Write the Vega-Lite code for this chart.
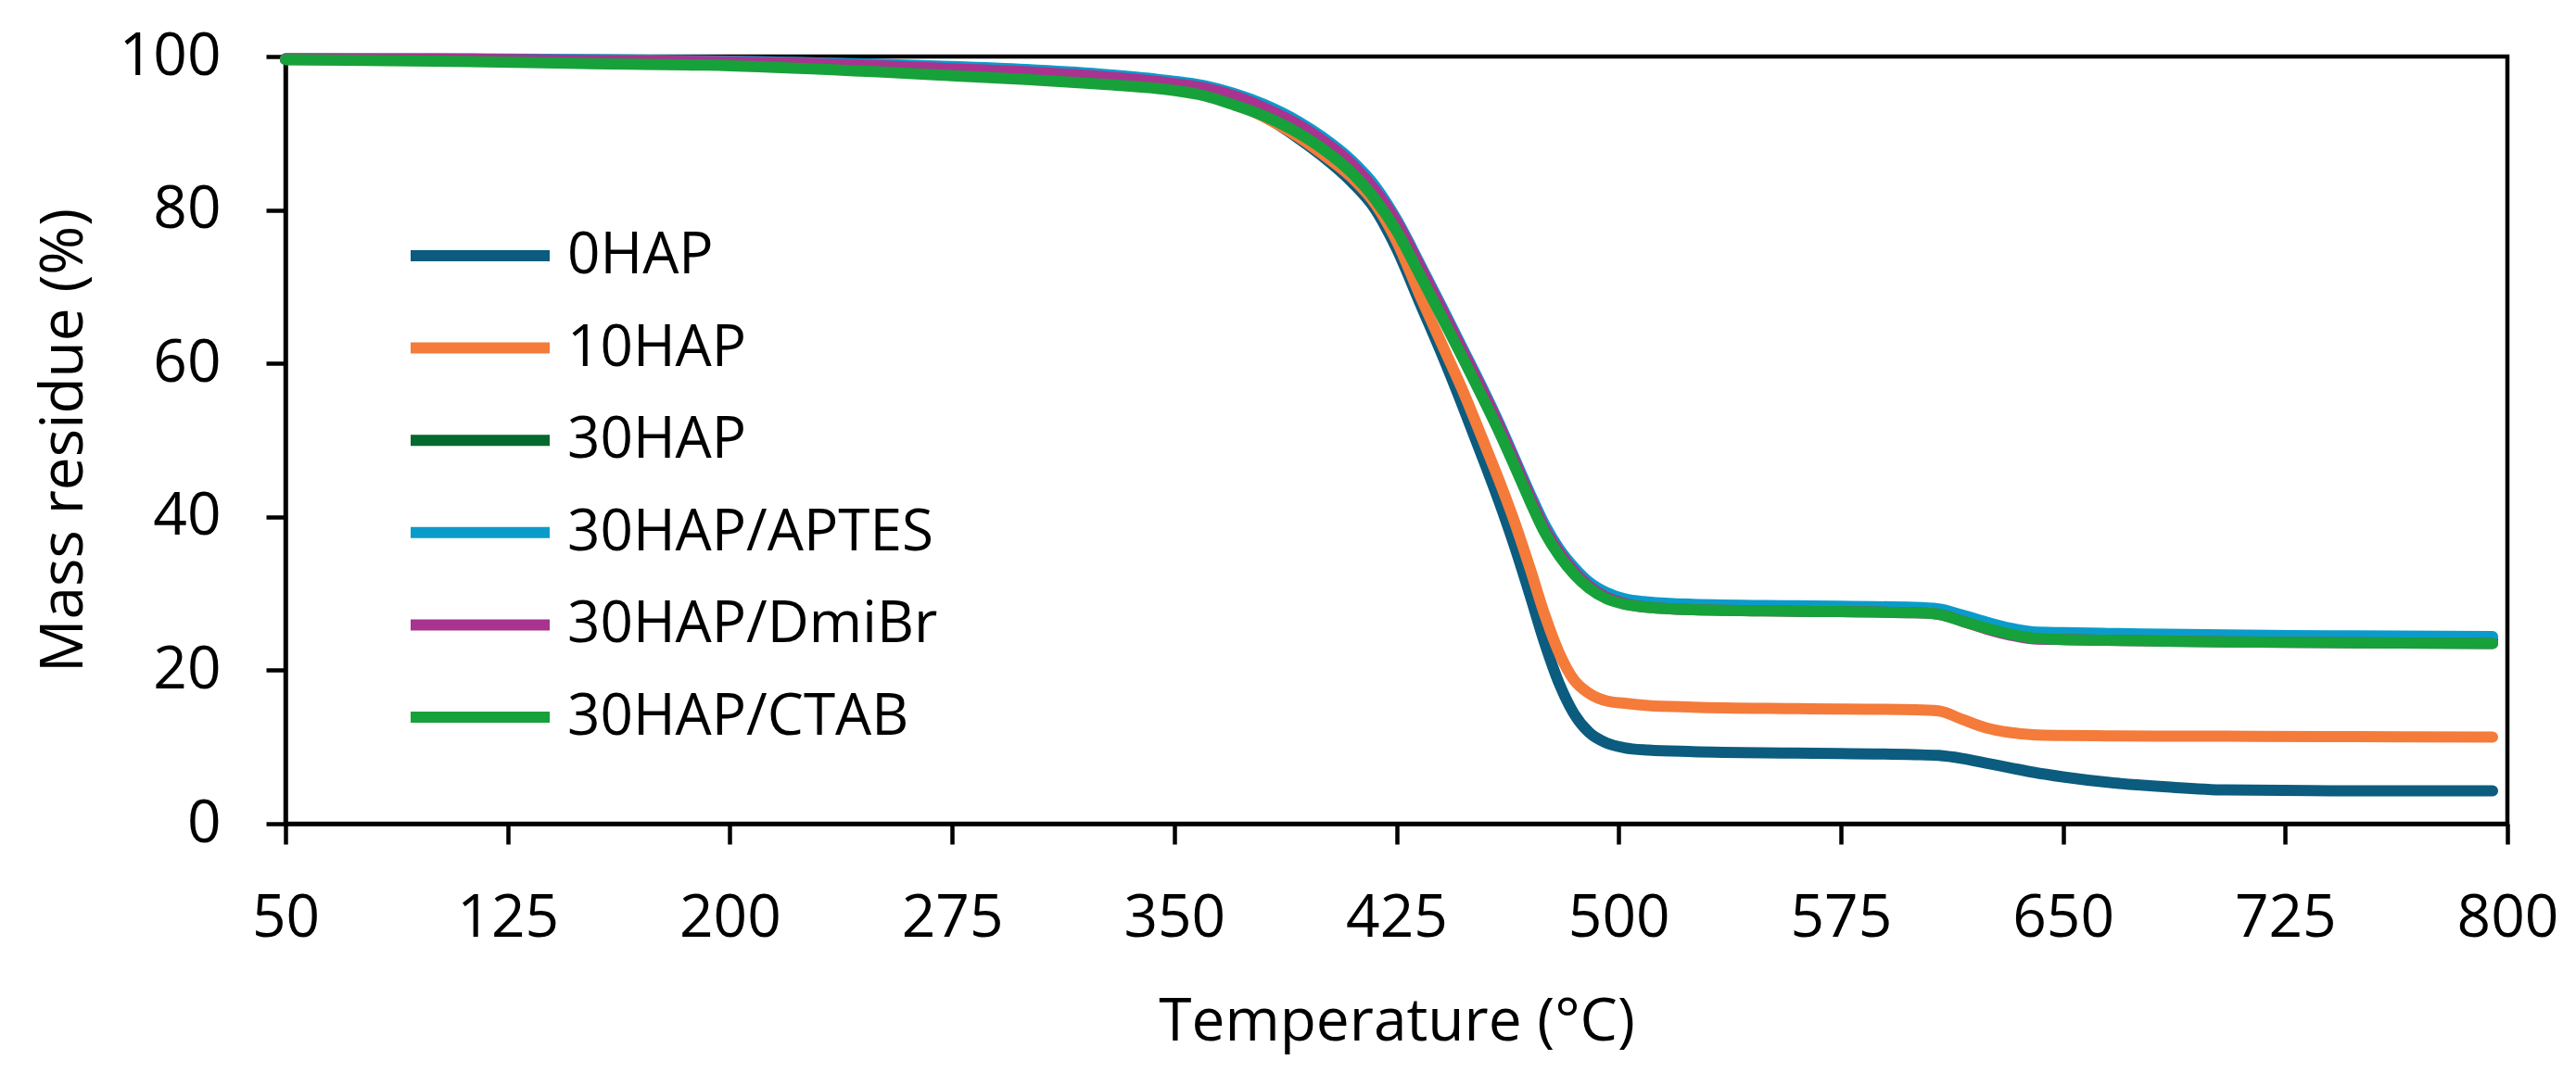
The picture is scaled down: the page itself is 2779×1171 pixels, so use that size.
{
  "$schema": "https://vega.github.io/schema/vega-lite/v6.json",
  "width": 2397,
  "height": 828,
  "autosize": {"type": "none"},
  "padding": {"left": 308, "top": 61, "right": 74, "bottom": 282},
  "background": "#ffffff",
  "config": {
    "font": "Open Sans",
    "view": {"stroke": "#000000", "strokeWidth": 4.5}
  },
  "data": {
    "values": [
      {"s":"0HAP","t":50,"m":99.6},{"s":"0HAP","t":100,"m":99.6},{"s":"0HAP","t":150,"m":99.5},{"s":"0HAP","t":200,"m":99.4},{"s":"0HAP","t":250,"m":98.9},{"s":"0HAP","t":300,"m":98.0},{"s":"0HAP","t":325,"m":97.3},{"s":"0HAP","t":345,"m":96.3},{"s":"0HAP","t":360,"m":95.1},{"s":"0HAP","t":370,"m":94.0},{"s":"0HAP","t":380,"m":92.3},{"s":"0HAP","t":392,"m":89.3},{"s":"0HAP","t":400,"m":87.0},{"s":"0HAP","t":410,"m":83.6},{"s":"0HAP","t":418,"m":80.0},{"s":"0HAP","t":425,"m":75.0},{"s":"0HAP","t":433,"m":67.8},{"s":"0HAP","t":440,"m":61.5},{"s":"0HAP","t":447,"m":54.8},{"s":"0HAP","t":454,"m":47.8},{"s":"0HAP","t":460,"m":41.6},{"s":"0HAP","t":465,"m":36.0},{"s":"0HAP","t":470,"m":29.9},{"s":"0HAP","t":475,"m":23.6},{"s":"0HAP","t":480,"m":18.2},{"s":"0HAP","t":485,"m":14.3},{"s":"0HAP","t":490,"m":11.9},{"s":"0HAP","t":496,"m":10.5},{"s":"0HAP","t":502,"m":9.9},{"s":"0HAP","t":510,"m":9.6},{"s":"0HAP","t":525,"m":9.4},{"s":"0HAP","t":560,"m":9.2},{"s":"0HAP","t":600,"m":9.0},{"s":"0HAP","t":608,"m":8.9},{"s":"0HAP","t":616,"m":8.5},{"s":"0HAP","t":624,"m":7.9},{"s":"0HAP","t":632,"m":7.3},{"s":"0HAP","t":640,"m":6.7},{"s":"0HAP","t":650,"m":6.1},{"s":"0HAP","t":665,"m":5.4},{"s":"0HAP","t":685,"m":4.8},{"s":"0HAP","t":705,"m":4.4},{"s":"0HAP","t":740,"m":4.3},{"s":"0HAP","t":795,"m":4.3},

      {"s":"10HAP","t":50,"m":99.6},{"s":"10HAP","t":100,"m":99.6},{"s":"10HAP","t":150,"m":99.5},{"s":"10HAP","t":200,"m":99.3},{"s":"10HAP","t":250,"m":98.8},{"s":"10HAP","t":300,"m":97.9},{"s":"10HAP","t":325,"m":97.2},{"s":"10HAP","t":345,"m":96.2},{"s":"10HAP","t":360,"m":95.0},{"s":"10HAP","t":370,"m":93.9},{"s":"10HAP","t":380,"m":92.2},{"s":"10HAP","t":392,"m":89.5},{"s":"10HAP","t":400,"m":87.3},{"s":"10HAP","t":410,"m":84.2},{"s":"10HAP","t":418,"m":80.7},{"s":"10HAP","t":425,"m":76.0},{"s":"10HAP","t":433,"m":68.8},{"s":"10HAP","t":440,"m":62.8},{"s":"10HAP","t":447,"m":56.8},{"s":"10HAP","t":454,"m":50.2},{"s":"10HAP","t":460,"m":44.4},{"s":"10HAP","t":465,"m":39.2},{"s":"10HAP","t":470,"m":33.4},{"s":"10HAP","t":475,"m":27.3},{"s":"10HAP","t":480,"m":22.2},{"s":"10HAP","t":485,"m":18.7},{"s":"10HAP","t":490,"m":17.0},{"s":"10HAP","t":496,"m":16.0},{"s":"10HAP","t":502,"m":15.7},{"s":"10HAP","t":510,"m":15.4},{"s":"10HAP","t":525,"m":15.2},{"s":"10HAP","t":560,"m":15.0},{"s":"10HAP","t":600,"m":14.85},{"s":"10HAP","t":608,"m":14.7},{"s":"10HAP","t":616,"m":13.6},{"s":"10HAP","t":624,"m":12.5},{"s":"10HAP","t":632,"m":11.9},{"s":"10HAP","t":640,"m":11.6},{"s":"10HAP","t":650,"m":11.5},{"s":"10HAP","t":665,"m":11.45},{"s":"10HAP","t":685,"m":11.4},{"s":"10HAP","t":705,"m":11.4},{"s":"10HAP","t":740,"m":11.35},{"s":"10HAP","t":795,"m":11.3},

      {"s":"30HAP","t":50,"m":99.7},{"s":"30HAP","t":100,"m":99.6},{"s":"30HAP","t":150,"m":99.4},{"s":"30HAP","t":200,"m":99.2},{"s":"30HAP","t":250,"m":98.6},{"s":"30HAP","t":275,"m":98.2},{"s":"30HAP","t":300,"m":97.7},{"s":"30HAP","t":325,"m":97.0},{"s":"30HAP","t":345,"m":96.4},{"s":"30HAP","t":360,"m":95.5},{"s":"30HAP","t":370,"m":94.4},{"s":"30HAP","t":380,"m":92.9},{"s":"30HAP","t":392,"m":90.5},{"s":"30HAP","t":400,"m":88.5},{"s":"30HAP","t":410,"m":85.3},{"s":"30HAP","t":418,"m":81.8},{"s":"30HAP","t":425,"m":77.8},{"s":"30HAP","t":433,"m":72.0},{"s":"30HAP","t":440,"m":66.8},{"s":"30HAP","t":447,"m":61.5},{"s":"30HAP","t":454,"m":56.1},{"s":"30HAP","t":460,"m":51.2},{"s":"30HAP","t":465,"m":46.9},{"s":"30HAP","t":470,"m":42.5},{"s":"30HAP","t":475,"m":38.4},{"s":"30HAP","t":480,"m":35.3},{"s":"30HAP","t":485,"m":32.9},{"s":"30HAP","t":490,"m":31.1},{"s":"30HAP","t":496,"m":29.7},{"s":"30HAP","t":502,"m":29.0},{"s":"30HAP","t":510,"m":28.6},{"s":"30HAP","t":525,"m":28.3},{"s":"30HAP","t":560,"m":28.1},{"s":"30HAP","t":600,"m":27.9},{"s":"30HAP","t":608,"m":27.7},{"s":"30HAP","t":616,"m":26.9},{"s":"30HAP","t":624,"m":26.0},{"s":"30HAP","t":632,"m":25.2},{"s":"30HAP","t":640,"m":24.7},{"s":"30HAP","t":650,"m":24.5},{"s":"30HAP","t":665,"m":24.4},{"s":"30HAP","t":685,"m":24.3},{"s":"30HAP","t":705,"m":24.2},{"s":"30HAP","t":740,"m":24.1},{"s":"30HAP","t":795,"m":24.0},

      {"s":"30HAP/APTES","t":50,"m":99.7},{"s":"30HAP/APTES","t":100,"m":99.7},{"s":"30HAP/APTES","t":150,"m":99.6},{"s":"30HAP/APTES","t":200,"m":99.4},{"s":"30HAP/APTES","t":250,"m":99.0},{"s":"30HAP/APTES","t":275,"m":98.7},{"s":"30HAP/APTES","t":300,"m":98.3},{"s":"30HAP/APTES","t":325,"m":97.7},{"s":"30HAP/APTES","t":345,"m":97.0},{"s":"30HAP/APTES","t":360,"m":96.2},{"s":"30HAP/APTES","t":370,"m":95.2},{"s":"30HAP/APTES","t":380,"m":93.8},{"s":"30HAP/APTES","t":392,"m":91.5},{"s":"30HAP/APTES","t":400,"m":89.5},{"s":"30HAP/APTES","t":410,"m":86.4},{"s":"30HAP/APTES","t":418,"m":83.0},{"s":"30HAP/APTES","t":425,"m":78.8},{"s":"30HAP/APTES","t":433,"m":72.9},{"s":"30HAP/APTES","t":440,"m":67.6},{"s":"30HAP/APTES","t":447,"m":62.2},{"s":"30HAP/APTES","t":454,"m":56.8},{"s":"30HAP/APTES","t":460,"m":51.9},{"s":"30HAP/APTES","t":465,"m":47.5},{"s":"30HAP/APTES","t":470,"m":43.1},{"s":"30HAP/APTES","t":475,"m":39.0},{"s":"30HAP/APTES","t":480,"m":35.8},{"s":"30HAP/APTES","t":485,"m":33.4},{"s":"30HAP/APTES","t":490,"m":31.5},{"s":"30HAP/APTES","t":496,"m":30.1},{"s":"30HAP/APTES","t":502,"m":29.3},{"s":"30HAP/APTES","t":510,"m":28.9},{"s":"30HAP/APTES","t":525,"m":28.6},{"s":"30HAP/APTES","t":560,"m":28.4},{"s":"30HAP/APTES","t":600,"m":28.2},{"s":"30HAP/APTES","t":608,"m":28.0},{"s":"30HAP/APTES","t":616,"m":27.2},{"s":"30HAP/APTES","t":624,"m":26.3},{"s":"30HAP/APTES","t":632,"m":25.5},{"s":"30HAP/APTES","t":640,"m":25.0},{"s":"30HAP/APTES","t":650,"m":24.9},{"s":"30HAP/APTES","t":665,"m":24.8},{"s":"30HAP/APTES","t":685,"m":24.7},{"s":"30HAP/APTES","t":705,"m":24.6},{"s":"30HAP/APTES","t":740,"m":24.5},{"s":"30HAP/APTES","t":795,"m":24.4},

      {"s":"30HAP/DmiBr","t":50,"m":99.7},{"s":"30HAP/DmiBr","t":100,"m":99.7},{"s":"30HAP/DmiBr","t":150,"m":99.5},{"s":"30HAP/DmiBr","t":200,"m":99.3},{"s":"30HAP/DmiBr","t":250,"m":98.8},{"s":"30HAP/DmiBr","t":275,"m":98.4},{"s":"30HAP/DmiBr","t":300,"m":98.0},{"s":"30HAP/DmiBr","t":325,"m":97.4},{"s":"30HAP/DmiBr","t":345,"m":96.7},{"s":"30HAP/DmiBr","t":360,"m":95.9},{"s":"30HAP/DmiBr","t":370,"m":94.9},{"s":"30HAP/DmiBr","t":380,"m":93.4},{"s":"30HAP/DmiBr","t":392,"m":91.1},{"s":"30HAP/DmiBr","t":400,"m":89.1},{"s":"30HAP/DmiBr","t":410,"m":86.0},{"s":"30HAP/DmiBr","t":418,"m":82.5},{"s":"30HAP/DmiBr","t":425,"m":78.5},{"s":"30HAP/DmiBr","t":433,"m":72.6},{"s":"30HAP/DmiBr","t":440,"m":67.3},{"s":"30HAP/DmiBr","t":447,"m":61.9},{"s":"30HAP/DmiBr","t":454,"m":56.5},{"s":"30HAP/DmiBr","t":460,"m":51.6},{"s":"30HAP/DmiBr","t":465,"m":47.2},{"s":"30HAP/DmiBr","t":470,"m":42.7},{"s":"30HAP/DmiBr","t":475,"m":38.5},{"s":"30HAP/DmiBr","t":480,"m":35.4},{"s":"30HAP/DmiBr","t":485,"m":32.9},{"s":"30HAP/DmiBr","t":490,"m":31.0},{"s":"30HAP/DmiBr","t":496,"m":29.5},{"s":"30HAP/DmiBr","t":502,"m":28.7},{"s":"30HAP/DmiBr","t":510,"m":28.2},{"s":"30HAP/DmiBr","t":525,"m":27.9},{"s":"30HAP/DmiBr","t":560,"m":27.7},{"s":"30HAP/DmiBr","t":600,"m":27.5},{"s":"30HAP/DmiBr","t":608,"m":27.3},{"s":"30HAP/DmiBr","t":616,"m":26.4},{"s":"30HAP/DmiBr","t":624,"m":25.4},{"s":"30HAP/DmiBr","t":632,"m":24.6},{"s":"30HAP/DmiBr","t":640,"m":24.1},{"s":"30HAP/DmiBr","t":650,"m":24.0},{"s":"30HAP/DmiBr","t":665,"m":23.9},{"s":"30HAP/DmiBr","t":685,"m":23.8},{"s":"30HAP/DmiBr","t":705,"m":23.7},{"s":"30HAP/DmiBr","t":740,"m":23.6},{"s":"30HAP/DmiBr","t":795,"m":23.5},

      {"s":"30HAP/CTAB","t":50,"m":99.6},{"s":"30HAP/CTAB","t":100,"m":99.4},{"s":"30HAP/CTAB","t":150,"m":99.1},{"s":"30HAP/CTAB","t":200,"m":98.8},{"s":"30HAP/CTAB","t":250,"m":98.0},{"s":"30HAP/CTAB","t":275,"m":97.5},{"s":"30HAP/CTAB","t":300,"m":97.0},{"s":"30HAP/CTAB","t":325,"m":96.4},{"s":"30HAP/CTAB","t":345,"m":95.8},{"s":"30HAP/CTAB","t":360,"m":94.9},{"s":"30HAP/CTAB","t":370,"m":93.7},{"s":"30HAP/CTAB","t":380,"m":92.3},{"s":"30HAP/CTAB","t":392,"m":90.0},{"s":"30HAP/CTAB","t":400,"m":88.0},{"s":"30HAP/CTAB","t":410,"m":84.8},{"s":"30HAP/CTAB","t":418,"m":81.3},{"s":"30HAP/CTAB","t":425,"m":77.3},{"s":"30HAP/CTAB","t":433,"m":71.5},{"s":"30HAP/CTAB","t":440,"m":66.3},{"s":"30HAP/CTAB","t":447,"m":61.0},{"s":"30HAP/CTAB","t":454,"m":55.6},{"s":"30HAP/CTAB","t":460,"m":50.8},{"s":"30HAP/CTAB","t":465,"m":46.5},{"s":"30HAP/CTAB","t":470,"m":42.1},{"s":"30HAP/CTAB","t":475,"m":38.0},{"s":"30HAP/CTAB","t":480,"m":34.9},{"s":"30HAP/CTAB","t":485,"m":32.5},{"s":"30HAP/CTAB","t":490,"m":30.7},{"s":"30HAP/CTAB","t":496,"m":29.3},{"s":"30HAP/CTAB","t":502,"m":28.6},{"s":"30HAP/CTAB","t":510,"m":28.2},{"s":"30HAP/CTAB","t":525,"m":27.9},{"s":"30HAP/CTAB","t":560,"m":27.7},{"s":"30HAP/CTAB","t":600,"m":27.5},{"s":"30HAP/CTAB","t":608,"m":27.3},{"s":"30HAP/CTAB","t":616,"m":26.4},{"s":"30HAP/CTAB","t":624,"m":25.5},{"s":"30HAP/CTAB","t":632,"m":24.7},{"s":"30HAP/CTAB","t":640,"m":24.2},{"s":"30HAP/CTAB","t":650,"m":24.0},{"s":"30HAP/CTAB","t":665,"m":23.9},{"s":"30HAP/CTAB","t":685,"m":23.8},{"s":"30HAP/CTAB","t":705,"m":23.7},{"s":"30HAP/CTAB","t":740,"m":23.6},{"s":"30HAP/CTAB","t":795,"m":23.5}
    ]
  },
  "mark": {
    "type": "line",
    "strokeWidth": 12,
    "interpolate": "monotone",
    "strokeCap": "round",
    "strokeJoin": "round"
  },
  "encoding": {
    "x": {
      "field": "t",
      "type": "quantitative",
      "scale": {"domain": [50, 800], "nice": false, "zero": false},
      "axis": {
        "values": [50, 125, 200, 275, 350, 425, 500, 575, 650, 725, 800],
        "title": "Temperature (°C)",
        "grid": false,
        "domainColor": "#000000",
        "domainWidth": 4.5,
        "tickColor": "#000000",
        "tickWidth": 4.5,
        "tickSize": 22,
        "labelFontSize": 64,
        "labelColor": "#000000",
        "labelPadding": 48,
        "labelFlush": false,
        "labelOverlap": false,
        "titleFontSize": 64,
        "titleFontWeight": "normal",
        "titleColor": "#000000",
        "titleBaseline": "alphabetic",
        "titleY": 233
      }
    },
    "y": {
      "field": "m",
      "type": "quantitative",
      "scale": {"domain": [0, 100], "nice": false},
      "axis": {
        "values": [0, 20, 40, 60, 80, 100],
        "title": "Mass residue (%)",
        "grid": false,
        "domainColor": "#000000",
        "domainWidth": 4.5,
        "tickColor": "#000000",
        "tickWidth": 4.5,
        "tickSize": 21,
        "labelFontSize": 64,
        "labelColor": "#000000",
        "labelPadding": 49,
        "labelFlush": false,
        "labelOverlap": false,
        "titleFontSize": 64,
        "titleFontWeight": "normal",
        "titleColor": "#000000",
        "titleBaseline": "alphabetic",
        "titleAngle": -90,
        "titleX": -220,
        "titleY": 414
      }
    },
    "color": {
      "field": "s",
      "type": "nominal",
      "scale": {
        "domain": ["0HAP", "10HAP", "30HAP", "30HAP/APTES", "30HAP/DmiBr", "30HAP/CTAB"],
        "range": ["#0B5C7E", "#F47B3A", "#03692E", "#0A9BCB", "#A8348F", "#17A13A"]
      },
      "legend": {
        "orient": "none",
        "legendX": 129,
        "legendY": 185,
        "title": null,
        "padding": 0,
        "symbolType": "stroke",
        "symbolSize": 22500,
        "symbolStrokeWidth": 12,
        "labelFontSize": 62,
        "labelColor": "#000000",
        "labelOffset": 13,
        "labelLimit": 1000,
        "clipHeight": 60,
        "rowPadding": 37.6
      }
    }
  }
}
